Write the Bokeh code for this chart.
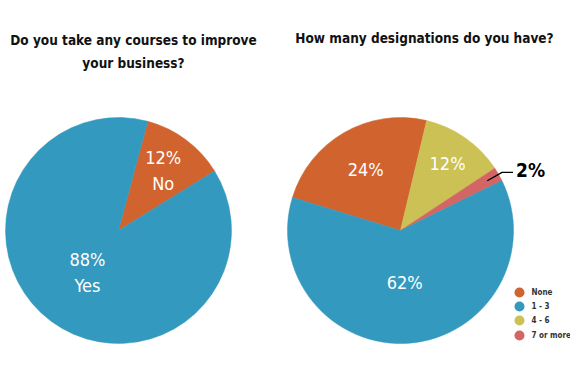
import math
from bokeh.plotting import figure
from bokeh.models import Range1d
from bokeh.core.properties import value
from bokeh.embed import file_html
from bokeh.resources import INLINE

# ---- data ----
courses_labels = ["No", "Yes"]
courses_values = [12, 88]
courses_colors = ["#D1632F", "#3399BE"]

desig_labels = ["None", "1 - 3", "4 - 6", "7 or more"]
desig_order = ["None", "4 - 6", "7 or more", "1 - 3"]  # drawing order around the pie
desig_values = {"None": 24, "1 - 3": 62, "4 - 6": 12, "7 or more": 2}
desig_colors = {"None": "#D1632F", "1 - 3": "#3399BE", "4 - 6": "#CCC155", "7 or more": "#D36565"}

title_left = ["Do you take any courses to improve", "your business?"]
title_right = "How many designations do you have?"

W, H = 570, 366
FONT = "DejaVu Sans Condensed"

p = figure(width=W, height=H, output_backend="svg", toolbar_location=None,
           x_range=Range1d(0, W), y_range=Range1d(0, H), min_border=0)
p.axis.visible = False
p.grid.visible = False
p.outline_line_color = None
p.background_fill_color = "white"
p.border_fill_color = "white"

R = 113


def Y(py):
    return H - py


def cw_to_math(deg):
    return math.radians(90 - deg)


def draw_pie(cx, cy, names, vals, colors, start_cw):
    total = float(sum(vals))
    a = start_cw
    mids = []
    for n, v, c in zip(names, vals, colors):
        span = 360.0 * v / total
        p.wedge(x=[cx], y=[cy], radius=R, start_angle=cw_to_math(a),
                end_angle=cw_to_math(a + span), direction="clock",
                fill_color=c, line_color=c, line_width=0.5)
        mids.append(a + span / 2)
        a += span
    return mids


def polar(cx, cy, ang_cw, r):
    t = math.radians(ang_cw)
    return cx + r * math.sin(t), cy + r * math.cos(t)


# left pie
lcx, lcy = 118, Y(230)
lmids = draw_pie(lcx, lcy, courses_labels, courses_values, courses_colors, 15)
lab_r = {"No": 75, "Yes": 52}
for n, v, m in zip(courses_labels, courses_values, lmids):
    x, y = polar(lcx, lcy, m, lab_r[n])
    p.text(x=[x, x], y=[y + 13, y - 13], text=[f"{v}%", n],
           text_font=value(FONT), text_font_size="18px", text_color="white",
           text_align="center", text_baseline="middle")

# right pie
rcx, rcy = 400, Y(230)
rmids = draw_pie(rcx, rcy, desig_order, [desig_values[n] for n in desig_order],
                 [desig_colors[n] for n in desig_order], -73)
r_lab = {"None": 70, "4 - 6": 82, "1 - 3": 52}
for n, m in zip(desig_order, rmids):
    if n in r_lab:
        x, y = polar(rcx, rcy, m, r_lab[n])
        p.text(x=[x], y=[y], text=[f"{desig_values[n]}%"],
               text_font=value(FONT), text_font_size="18px", text_color="white",
               text_align="center", text_baseline="middle")
    else:
        x0, y0 = polar(rcx, rcy, m, 100)
        x1, y1 = polar(rcx, rcy, m, 117)
        x2 = x1 + 11
        p.line(x=[x0, x1, x2], y=[y0, y1, y1], line_color="black", line_width=1.3)
        p.text(x=[x2 + 3], y=[y1 + 2], text=[f"{desig_values[n]}%"],
               text_font=value(FONT), text_font_size="19px", text_font_style="bold",
               text_color="black", text_align="left", text_baseline="middle")

# legend
ly = [292, 306, 320, 335]
for n, yy in zip(desig_labels, ly):
    p.scatter(x=[519], y=[Y(yy)], size=10, marker="circle",
              fill_color=desig_colors[n], line_color=None)
    p.text(x=[531], y=[Y(yy)], text=[n], text_font=value(FONT), text_font_size="8px",
           text_font_style="bold", text_color="#333333",
           text_align="left", text_baseline="middle")

# titles
p.text(x=[133, 133], y=[Y(39), Y(62)], text=title_left, text_font=value(FONT),
       text_font_size="13.5px", text_font_style="bold", text_color="#111111",
       text_align="center", text_baseline="alphabetic")
p.text(x=[424], y=[Y(37)], text=[title_right], text_font=value(FONT),
       text_font_size="13.5px", text_font_style="bold", text_color="#111111",
       text_align="center", text_baseline="alphabetic")

open("out.html", "w").write(file_html(p, INLINE))
